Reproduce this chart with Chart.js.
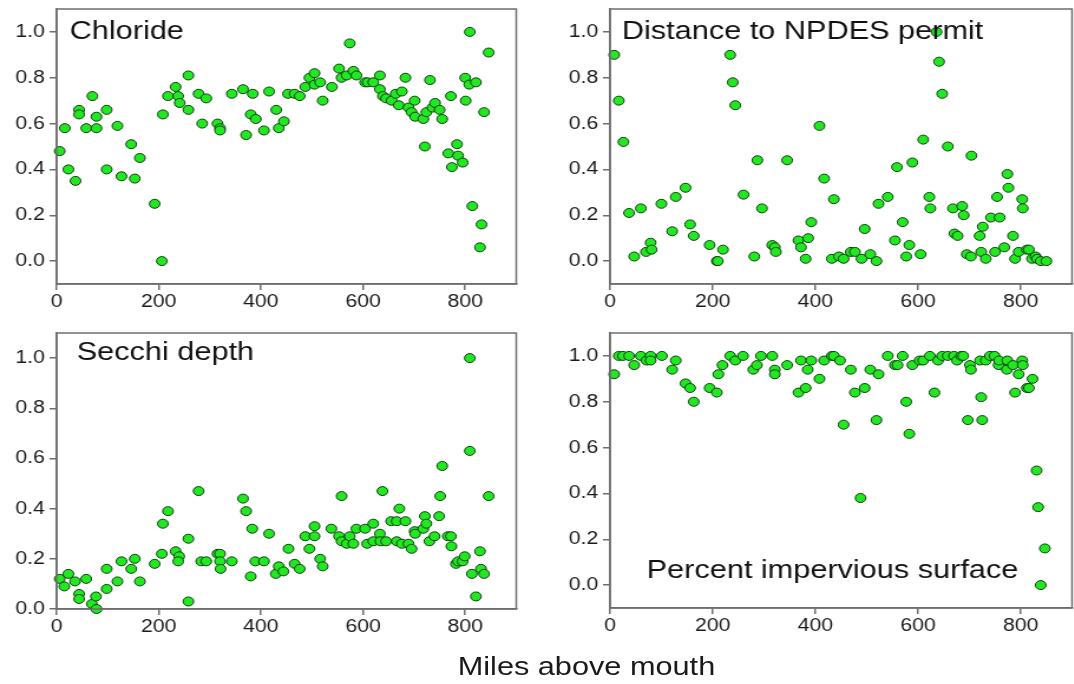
<!DOCTYPE html>
<html lang="en">
<head>
  <meta charset="UTF-8" />
  <title>Miles above mouth - four indicators</title>
  <script src="https://cdn.jsdelivr.net/npm/chart.js"></script>
  <style>
    html, body {
      margin: 0;
      padding: 0;
      background: #fff;
      overflow: hidden;
    }
    /* the source figure is stretched a bit horizontally */
    #fig {
      position: absolute;
      left: 0;
      top: 0;
      width: 910px;
      height: 684px;
      transform: scaleX(1.18);
      transform-origin: 0 0;
    }
    .panel {
      position: absolute;
    }
    .xlabel {
      position: absolute;
      left: 347px;
      top: 651px;
      width: 300px;
      text-align: center;
      font-family: "Liberation Sans", Arial, sans-serif;
      font-size: 26px;
      line-height: 30px;
      color: #1a1a1a;
    }
  </style>
</head>
<body>
  <div id="fig">
    <div class="panel" style="left:0;top:0"><canvas id="chloride" width="443" height="320"></canvas></div>
    <div class="panel" style="left:469px;top:0"><canvas id="npdes" width="445" height="320"></canvas></div>
    <div class="panel" style="left:0;top:324px"><canvas id="secchi" width="443" height="321"></canvas></div>
    <div class="panel" style="left:469px;top:324px"><canvas id="impervious" width="445" height="320"></canvas></div>
    <div class="xlabel">Miles above mouth</div>
  </div>

  <script>
    // ---- data ----
    const xTicks = [0, 200, 400, 600, 800];
    const yTicks = [0, 0.2, 0.4, 0.6, 0.8, 1.0];

    const chlorideMiles = [6,16,23,37,44,44,58,70,78,78, 98,98,119,127,146,153,163,192,206,208,
      218,233,238,241,258,258,278,285,293,315, 320,320,343,365,371,384,380,390,406,416,
      430,435,445,453,466,476,487,495,505,505, 516,521,539,553,558,568,574,581,587,604,
      609,620,633,633,639,645,656,664,670,676, 683,689,695,701,702,718,721,724,731,736,
      741,750,755,772,767,774,784,786,795,800, 801,808,809,814,821,832,829,837,846];
    const chlorideVals = [0.48,0.58,0.40,0.35,0.66,0.64,0.58,0.72,0.63,0.58, 0.40,0.66,0.59,0.37,0.51,0.36,0.45,0.25,0.00,0.64,
      0.72,0.76,0.72,0.69,0.81,0.66,0.73,0.60,0.71,0.60, 0.58,0.57,0.73,0.75,0.55,0.73,0.64,0.62,0.57,0.74,
      0.66,0.58,0.61,0.73,0.73,0.72,0.76,0.80,0.77,0.82, 0.78,0.70,0.76,0.84,0.80,0.81,0.95,0.83,0.81,0.78,
      0.78,0.78,0.81,0.75,0.72,0.71,0.70,0.73,0.68,0.74, 0.80,0.67,0.65,0.70,0.63,0.62,0.50,0.65,0.79,0.67,
      0.69,0.66,0.62,0.72,0.47,0.41,0.51,0.46,0.43,0.80, 0.70,0.77,1.00,0.24,0.78,0.16,0.06,0.65,0.91];

    const npdesMiles = [8,17,26,37,47,60,70,79,81,100, 121,128,147,156,163,194,208,210,220,234,
      239,244,260,281,287,296,316,321,323,345, 367,372,381,386,392,408,417,436,432,446,
      455,469,477,490,496,507,519,523,541,555, 559,570,577,583,589,605,610,622,624,636,
      641,647,658,668,671,677,686,689,695,703, 704,720,723,726,732,742,750,754,759,768,
      774,776,785,789,796,803,804,812,816,822, 829,832,839,850];
    const npdesVals = [0.90,0.70,0.52,0.21,0.02,0.23,0.04,0.08,0.05,0.25, 0.13,0.28,0.32,0.16,0.11,0.07,0.00,0.00,0.05,0.90,
      0.78,0.68,0.29,0.02,0.44,0.23,0.07,0.06,0.04,0.44, 0.09,0.06,0.01,0.10,0.17,0.59,0.36,0.27,0.01,0.02,
      0.01,0.04,0.04,0.01,0.14,0.03,0.00,0.25,0.28,0.09, 0.41,0.17,0.02,0.07,0.43,0.03,0.53,0.28,0.23,1.00,
      0.87,0.73,0.50,0.23,0.12,0.11,0.24,0.20,0.03,0.02, 0.46,0.11,0.04,0.15,0.01,0.19,0.04,0.28,0.19,0.06,
      0.38,0.32,0.11,0.01,0.04,0.27,0.23,0.05,0.05,0.01, 0.02,0.01,0.00,0.00];

    const secchiMiles = [6,15,23,36,44,44,58,69,77,78, 98,98,119,127,146,153,163,192,206,208,
      218,233,240,238,258,258,278,283,293,315, 320,320,321,343,365,371,383,380,389,406,
      416,429,435,444,454,466,476,487,495,505, 505,516,521,538,553,558,558,568,574,581,
      587,604,608,620,620,633,638,634,645,655, 666,671,666,676,683,689,695,701,702,718,
      721,724,730,740,749,751,755,766,772,773, 782,786,795,799,809,809,813,821,829,831,
      837,846];
    const secchiVals = [0.12,0.09,0.14,0.11,0.06,0.04,0.12,0.02,0.05,0.00, 0.08,0.16,0.11,0.19,0.16,0.20,0.11,0.18,0.22,0.34,
      0.39,0.23,0.21,0.19,0.28,0.03,0.47,0.19,0.19,0.22, 0.22,0.19,0.16,0.19,0.44,0.39,0.32,0.13,0.19,0.19,
      0.30,0.14,0.17,0.15,0.24,0.18,0.16,0.29,0.24,0.29, 0.33,0.20,0.17,0.32,0.29,0.45,0.27,0.26,0.29,0.26,
      0.32,0.32,0.26,0.34,0.27,0.30,0.47,0.27,0.27,0.35, 0.35,0.40,0.27,0.26,0.35,0.26,0.24,0.31,0.30,0.32,
      0.37,0.34,0.27,0.29,0.37,0.45,0.57,0.29,0.29,0.25, 0.18,0.19,0.19,0.21,1.00,0.63,0.14,0.05,0.23,0.16,
      0.14,0.45];

    const imperviousMiles = [8,17,25,37,47,60,71,79,79,101, 121,128,147,156,163,194,208,211,219,234,
      244,259,279,286,294,316,321,321,345,367, 372,381,385,392,408,417,432,436,448,455,
      469,477,488,496,507,519,523,541,555,560, 570,577,583,589,603,610,623,632,639,647,
      658,670,676,684,688,697,701,703,721,723, 725,732,740,749,757,758,773,774,785,789,
      796,803,804,812,816,823,831,834,847,839];
    const imperviousVals = [0.92,1.00,1.00,1.00,0.96,1.00,0.98,1.00,0.98,1.00, 0.94,0.98,0.88,0.86,0.80,0.86,0.84,0.92,0.96,1.00,
      0.98,1.00,0.94,0.96,1.00,1.00,0.94,0.92,0.96,0.84, 0.98,0.86,0.94,0.98,0.90,0.98,1.00,1.00,0.98,0.70,
      0.94,0.84,0.38,0.86,0.94,0.72,0.92,1.00,0.96,0.96, 1.00,0.80,0.66,0.96,0.98,0.98,1.00,0.84,0.98,1.00,
      1.00,1.00,0.98,1.00,1.00,0.72,0.96,0.94,0.98,0.82, 0.72,0.98,1.00,1.00,0.96,0.98,0.94,0.98,0.96,0.84,
      0.92,0.98,0.96,0.86,0.86,0.90,0.50,0.34,0.16,0.00];

    // ---- drawing ----
    const FONT = '"Liberation Sans", Arial, sans-serif';
    const AXIS_COLOR = '#6e6e6e';

    // box around the plot area plus the panel name written inside it
    const framePlugin = {
      id: 'frame',
      afterDatasetsDraw(chart, args, opts) {
        const { ctx, chartArea: a } = chart;
        ctx.save();
        ctx.strokeStyle = AXIS_COLOR;
        ctx.lineWidth = 1.5;
        ctx.strokeRect(a.left, a.top, a.right - a.left, a.bottom - a.top);
        if (opts.label) {
          ctx.fillStyle = '#111';
          ctx.font = '26px ' + FONT;
          ctx.textBaseline = 'alphabetic';
          const y = opts.fromBottom ? a.bottom - opts.dy : a.top + opts.dy;
          ctx.fillText(opts.label, a.left + opts.dx, y);
        }
        ctx.restore();
      }
    };

    function makePanel(id, miles, vals, yMin, label, dx, dy, fromBottom, padRight) {
      const pts = miles.map((m, i) => ({ x: m, y: vals[i] }));
      return new Chart(document.getElementById(id), {
        type: 'scatter',
        data: {
          datasets: [{
            data: pts,
            pointRadius: 4.5,
            pointHoverRadius: 4.5,
            pointBackgroundColor: '#22e822',
            pointBorderColor: '#0b3d0b',
            pointBorderWidth: 1,
            clip: 8
          }]
        },
        options: {
          responsive: false,
          animation: false,
          events: [],
          layout: { padding: { left: 0, top: 9, right: padRight, bottom: 0 } },
          plugins: {
            legend: { display: false },
            tooltip: { enabled: false },
            frame: { label: label, dx: dx, dy: dy, fromBottom: fromBottom }
          },
          scales: {
            x: {
              type: 'linear',
              min: 0,
              max: 900,
              afterBuildTicks: s => { s.ticks = xTicks.map(v => ({ value: v })); },
              afterFit: s => { s.height = 36; s.paddingLeft = 0; s.paddingRight = 0; },
              grid: { drawOnChartArea: false, drawTicks: true, tickLength: 6, color: AXIS_COLOR, lineWidth: 1.5 },
              border: { color: AXIS_COLOR, width: 1.5 },
              ticks: { color: '#1a1a1a', font: { family: FONT, size: 18 }, padding: 1, maxRotation: 0 }
            },
            y: {
              type: 'linear',
              min: yMin,
              max: 1.1,
              afterBuildTicks: s => { s.ticks = yTicks.map(v => ({ value: v })); },
              afterFit: s => { s.width = 48; s.paddingTop = 0; s.paddingBottom = 0; },
              grid: { drawOnChartArea: false, drawTicks: true, tickLength: 6, color: AXIS_COLOR, lineWidth: 1.5 },
              border: { color: AXIS_COLOR, width: 1.5 },
              ticks: { color: '#1a1a1a', font: { family: FONT, size: 18 }, padding: 4, callback: v => v.toFixed(1) }
            }
          }
        },
        plugins: [framePlugin]
      });
    }

    makePanel('chloride', chlorideMiles, chlorideVals, -0.1, 'Chloride', 11, 30, false, 3);
    makePanel('npdes', npdesMiles, npdesVals, -0.1, 'Distance to NPDES permit', 10, 30, false, 0);
    makePanel('secchi', secchiMiles, secchiVals, 0, 'Secchi depth', 17, 27, false, 3);
    makePanel('impervious', imperviousMiles, imperviousVals, -0.1, 'Percent impervious surface', 31, 30, true, 0);
  </script>
</body>
</html>
